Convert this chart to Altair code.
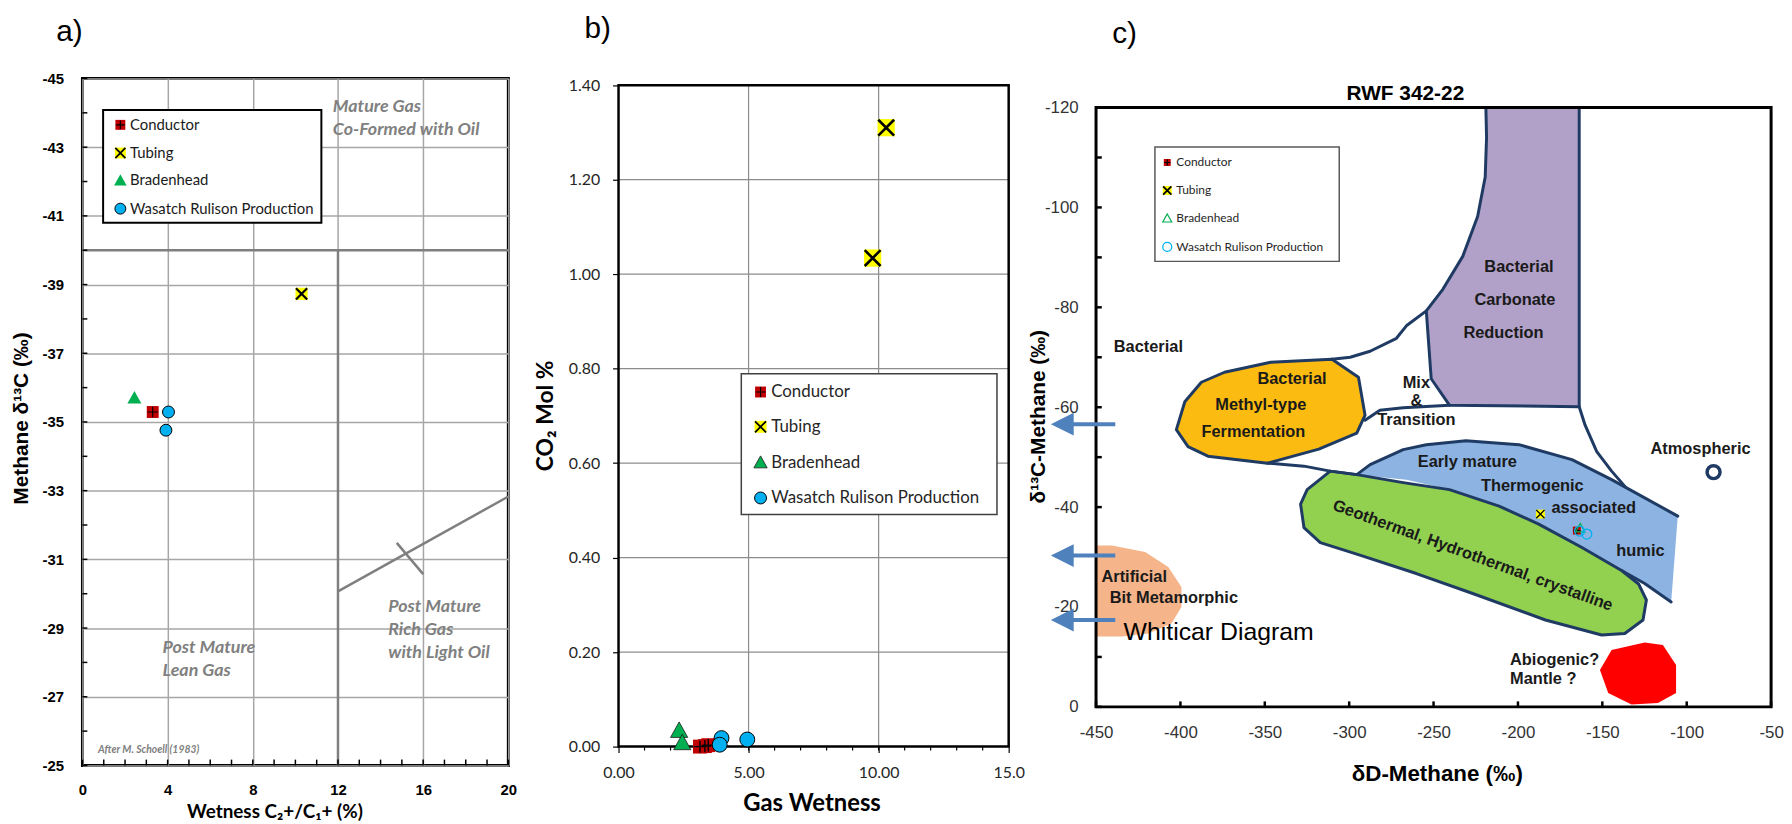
import altair as alt
import pandas as pd

SERIES = ["Conductor", "Tubing", "Bradenhead", "Wasatch Rulison Production"]

# ---------------- a) Schoell diagram ----------------
a_cond_x = [3.30]
a_cond_y = [-35.29]
a_tub_x = [10.29]
a_tub_y = [-38.73]
a_brad_x = [2.44]
a_brad_y = [-35.70]
a_was_x = [4.04, 3.92]
a_was_y = [-35.29, -34.76]
a_x_ticks = [0, 4, 8, 12, 16, 20]
a_y_ticks = [-45, -43, -41, -39, -37, -35, -33, -31, -29, -27, -25]
a_minor_x = list(range(0, 21))
a_minor_y = list(range(-45, -24))
a_seg_x = [0, 12, 12, 14.76]
a_seg_y = [-40, -40, -30.07, -31.48]
a_seg_x2 = [20, 12, 20, 16.0]
a_seg_y2 = [-40, -25, -32.83, -30.57]
a_notes = ["Mature Gas", "Co-Formed with Oil", "Post Mature", "Lean Gas",
           "Post Mature", "Rich Gas", "with Light Oil"]
a_note_x = [11.76, 11.76, 3.76, 3.76, 14.36, 14.36, 14.36]
a_note_y = [-44.18, -43.50, -28.43, -27.75, -29.60, -28.93, -28.26]
a_credit = ["After M. Schoell (1983)"]
a_credit_x = [0.73]
a_credit_y = [-25.46]
a_leg_box = [0.97, 11.22, -44.08, -40.80]
a_leg_sym_x = 1.78
a_leg_txt_x = 2.23
a_leg_rows = [-43.65, -42.83, -42.03, -41.21]
a_tag_x = [-0.61]
a_tag_y = [-46.36]
a_xtitle = ["Wetness C₂+/C₁+ (%)"]
a_xtitle_x = [9.04]
a_xtitle_y = [-23.64]
a_ytitle = ["Methane δ¹³C (‰)"]
a_ytitle_x = [-2.84]
a_ytitle_y = [-35.10]

# ---------------- b) CO2 vs gas wetness ----------------
b_cond_x = [3.13, 3.32, 3.45]
b_cond_y = [0.000, 0.001, 0.003]
b_tub_x = [10.29, 9.77]
b_tub_y = [1.310, 1.034]
b_brad_x = [2.33, 2.45]
b_brad_y = [0.034, 0.008]
b_was_x = [3.96, 3.89, 4.95]
b_was_y = [0.018, 0.004, 0.015]
b_x_ticks = [0, 5, 10, 15]
b_y_ticks = [0, 0.2, 0.4, 0.6, 0.8, 1.0, 1.2, 1.4]
b_grid_x = [5, 10]
b_grid_y = [0.2, 0.4, 0.6, 0.8, 1.0, 1.2]
b_minor_x = list(range(1, 15))
b_leg_box = [4.72, 14.55, 0.491, 0.789]
b_leg_sym_x = 5.46
b_leg_txt_x = 5.87
b_leg_rows = [0.7505, 0.6769, 0.6012, 0.5262]
b_tag_x = [-0.80]
b_tag_y = [1.518]
b_xtitle = ["Gas Wetness"]
b_xtitle_x = [7.44]
b_xtitle_y = [-0.121]
b_ytitle = ["CO₂ Mol %"]
b_ytitle_x = [-2.786]
b_ytitle_y = [0.700]

# ---------------- c) Whiticar diagram ----------------
c_cond_x = [-165.1]
c_cond_y = [-35.3]
c_tub_x = [-186.7]
c_tub_y = [-38.6]
c_brad_x = [-163.1]
c_brad_y = [-35.8]
c_was_x = [-159.2, -163.5]
c_was_y = [-34.6, -35.2]
c_x_ticks = [-450, -400, -350, -300, -250, -200, -150, -100, -50]
c_y_ticks = [-120, -100, -80, -60, -40, -20, 0]
c_minor_y = list(range(-120, 1, 10))

c_purple_x = [-219.0, -163.7, -163.7, -240.6, -251.4, -254.3, -244.5, -232.7, -223.9, -219.4, -218.6, -219.0]
c_purple_y = [-120.0, -120.0, -60.1, -60.4, -65.7, -79.3, -83.6, -90.2, -98.2, -106.1, -114.0, -120.0]
c_orange_x = [-310.2, -294.5, -290.6, -295.5, -318.0, -348.4, -383.7, -395.5, -402.4, -397.4, -387.6, -373.9, -346.5, -310.2]
c_orange_y = [-69.6, -66.0, -58.4, -54.8, -51.6, -48.8, -50.2, -52.1, -55.5, -61.1, -65.0, -67.0, -69.0, -69.6]
c_blue_x = [-295.5, -287.6, -268.0, -254.3, -230.8, -199.4, -168.0, -144.5, -105.3, -109.2, -124.9, -138.6,
            -162.1, -187.7, -211.2, -240.6, -266.1, -295.5]
c_blue_y = [-46.5, -48.5, -51.5, -52.5, -53.3, -52.5, -49.5, -45.5, -38.2, -21.0, -24.7, -27.3,
            -31.9, -36.6, -40.2, -43.5, -45.5, -46.5]
c_green_x = [-311.2, -295.5, -268.0, -240.6, -211.2, -187.7, -162.1, -138.6, -128.5, -123.9, -125.9, -136.7,
             -150.4, -183.7, -226.8, -260.2, -295.5, -317.1, -326.8, -328.8, -324.9, -311.2]
c_green_y = [-47.2, -46.5, -44.9, -43.5, -40.2, -36.6, -31.9, -27.3, -24.6, -21.4, -17.4, -14.7,
             -14.4, -17.4, -22.7, -26.7, -30.6, -32.9, -35.9, -40.6, -43.5, -47.2]
c_peach_x = [-450.0, -440.6, -420.9, -407.2, -399.4, -399.4, -405.3, -419.0, -434.7, -450.0]
c_peach_y = [-32.3, -32.3, -31.0, -28.0, -24.0, -20.0, -16.7, -14.7, -14.1, -14.1]
c_red_x = [-144.5, -124.9, -114.1, -106.3, -106.3, -117.1, -132.7, -146.5, -151.4, -144.5]
c_red_y = [-11.4, -12.9, -12.4, -8.4, -2.8, -0.8, -0.5, -2.8, -7.4, -11.4]
c_line1_x = [-310.2, -299.4, -287.6, -272.0, -266.1, -254.3]
c_line1_y = [-69.6, -70.0, -71.2, -73.8, -76.3, -79.3]
c_line2_x = [-290.6, -281.8, -268.0, -240.6]
c_line2_y = [-57.4, -59.4, -59.9, -60.4]
c_line3_x = [-348.4, -326.8, -311.2, -295.5]
c_line3_y = [-48.8, -48.2, -47.2, -46.5]
c_line4_x = [-163.7, -160.2, -153.3, -144.5, -136.5]
c_line4_y = [-60.1, -56.4, -51.1, -47.2, -44.1]
c_line5_x = [-109.2, -124.9, -138.6]
c_line5_y = [-21.0, -24.7, -27.3]
c_arrow_y = [-56.6, -30.3, -17.4]
c_arrow_x1 = -465.0
c_arrow_x2 = -438.6
c_arrow_head_x = -470.0
c_atm_x = [-84.1]
c_atm_y = [-47.0]

c_region_text = ["Bacterial", "Bacterial", "Methyl-type", "Fermentation", "Mix", "&", "Transition",
                 "Bacterial", "Carbonate", "Reduction", "Early mature", "Thermogenic", "associated",
                 "humic", "Atmospheric"]
c_region_x = [-419.0, -333.9, -352.4, -356.8, -260.2, -260.2, -260.2, -199.4, -201.8, -208.6,
              -230.0, -191.5, -155.1, -127.4, -91.8]
c_region_y = [-72.0, -65.7, -60.4, -55.1, -64.9, -61.2, -57.4, -88.1, -81.4, -74.8,
              -49.0, -44.3, -39.8, -31.3, -51.7]
c_left_text = ["Artificial", "Bit Metamorphic", "Abiogenic?", "Mantle ?"]
c_left_x = [-446.8, -441.9, -204.7, -204.7]
c_left_y = [-26.0, -21.7, -9.3, -5.5]
c_geo_text = ["Geothermal, Hydrothermal, crystalline"]
c_geo_x = [-226.8]
c_geo_y = [-30.3]
c_whit_text = ["Whiticar Diagram"]
c_whit_x = [-433.7]
c_whit_y = [-14.9]
c_title_text = ["RWF 342-22"]
c_title_x = [-266.7]
c_title_y = [-122.8]
c_leg_box = [-415.1, -305.9, -112.1, -89.2]
c_leg_sym_x = -407.8
c_leg_txt_x = -402.4
c_leg_rows = [-109.0, -103.4, -97.8, -92.1]
c_tag_x = [-433.1]
c_tag_y = [-134.8]
c_xtitle = ["δD-Methane (‰)"]
c_xtitle_x = [-247.8]
c_xtitle_y = [13.4]
c_ytitle = ["δ¹³C-Methane (‰)"]
c_ytitle_x = [-483.7]
c_ytitle_y = [-58.1]

# ---------------- styling ----------------
RED = "#c00000"
YELLOW = "#ffff00"
GREEN = "#00b050"
CYAN = "#00b0f0"
NAVY = "#1f3b64"
SANS = "Liberation Sans"
CAL = "Lato"
CROSS = "M-1,0L1,0M0,-1L0,1"
XMARK = "M-1,-1L1,1M-1,1L1,-1"
TRI = "M0,-1L1,0.8L-1,0.8Z"
HEAD = "M-1,0L1,-1L1,1Z"


def frame(xs, ys):
    return pd.DataFrame({"x": xs, "y": ys})


def pt(data, X, Y, shape, size, fill=None, stroke=None, sw=1.0):
    props = {"shape": shape, "size": size, "opacity": 1}
    if fill is None:
        props["filled"] = False
    else:
        props["filled"] = True
        props["fill"] = fill
    if stroke is not None:
        props["stroke"] = stroke
        props["strokeWidth"] = sw
    return alt.Chart(data).mark_point(**props).encode(x=X, y=Y)


def conductor(data, X, Y, s, lw=1.2):
    return [pt(data, X, Y, "square", s, fill=RED),
            pt(data, X, Y, CROSS, s * 0.8, stroke="black", sw=lw)]


def tubing(data, X, Y, s, lw=1.8):
    return [pt(data, X, Y, "square", s, fill=YELLOW),
            pt(data, X, Y, XMARK, s * 0.85, stroke="black", sw=lw)]


def bradenhead(data, X, Y, s, mode):
    if mode == "open":
        return [pt(data, X, Y, TRI, s, stroke=GREEN, sw=1.2)]
    if mode == "outlined":
        return [pt(data, X, Y, TRI, s, fill=GREEN, stroke="#1a1a1a", sw=0.8)]
    return [pt(data, X, Y, TRI, s, fill=GREEN)]


def wasatch(data, X, Y, s, mode):
    if mode == "open":
        return [pt(data, X, Y, "circle", s, stroke=CYAN, sw=1.3)]
    return [pt(data, X, Y, "circle", s, fill=CYAN, stroke="black", sw=1.0)]


def texts(labels, xs, ys, X, Y, **props):
    d = pd.DataFrame({"x": xs, "y": ys, "t": labels})
    return alt.Chart(d).mark_text(**props).encode(x=X, y=Y, text="t:N")


def rules(xs, x2s, ys, y2s, X, Y, **props):
    d = pd.DataFrame({"x": xs, "x2": x2s, "y": ys, "y2": y2s})
    return alt.Chart(d).mark_rule(**props).encode(x=X, x2=alt.X2("x2"), y=Y, y2=alt.Y2("y2"))


def box(xy, X, Y, **props):
    d = pd.DataFrame({"x": [xy[0]], "x2": [xy[1]], "y": [xy[2]], "y2": [xy[3]]})
    return alt.Chart(d).mark_rect(**props).encode(x=X, x2=alt.X2("x2"), y=Y, y2=alt.Y2("y2"))


def shape(xs, ys, X, Y, fill=None, stroke=None, sw=3.0):
    d = pd.DataFrame({"x": xs, "y": ys, "i": list(range(len(xs)))})
    props = {"interpolate": "linear", "strokeJoin": "round", "strokeCap": "round"}
    if fill is not None:
        props["fill"] = fill
    if stroke is not None:
        props["stroke"] = stroke
        props["strokeWidth"] = sw
    else:
        props["strokeWidth"] = 0
        props["strokeOpacity"] = 0
    return alt.Chart(d).mark_line(**props).encode(x=X, y=Y, order="i:Q")


def legend(bx, sym_x, txt_x, rows, X, Y, sizes, mode, font_size, box_stroke, box_sw, text_color):
    layers = [box(bx, X, Y, fill="white", stroke=box_stroke, strokeWidth=box_sw)]
    layers += conductor(frame([sym_x], [rows[0]]), X, Y, sizes[0])
    layers += tubing(frame([sym_x], [rows[1]]), X, Y, sizes[1])
    layers += bradenhead(frame([sym_x], [rows[2]]), X, Y, sizes[2], mode)
    layers += wasatch(frame([sym_x], [rows[3]]), X, Y, sizes[3], mode)
    layers.append(texts(SERIES, [txt_x] * 4, rows, X, Y, align="left", baseline="middle",
                        font=CAL, fontSize=font_size, color=text_color))
    return layers


def anchor(left, right, top):
    # white hairline on the white page: fixes the panel's outer extent for the concat layout
    return alt.Chart(pd.DataFrame({"k": [0]})).mark_rule(color="white", strokeWidth=1).encode(
        x=alt.value(left), x2=alt.value(right), y=alt.value(top), y2=alt.value(top))


def axis(values, label_font, label_size, label_weight, label_color, label_pad, fmt=None, label_expr=None,
         grid=False, grid_color="#a6a6a6", grid_width=1.0, tick_size=0):
    kw = dict(values=values, grid=grid, domain=False, labelFont=label_font, labelFontSize=label_size,
              labelFontWeight=label_weight, labelColor=label_color, labelPadding=label_pad,
              labelFlush=False, labelOverlap=False, labelAngle=0, title=None)
    if grid:
        kw.update(gridColor=grid_color, gridWidth=grid_width)
    if tick_size > 0:
        kw.update(ticks=True, tickSize=tick_size, tickColor="black", tickWidth=1.2)
    else:
        kw.update(ticks=False, tickSize=0)
    if fmt:
        kw["format"] = fmt
    if label_expr:
        kw["labelExpr"] = label_expr
    return alt.Axis(**kw)


PLAIN = "datum.value + ''"

# ---------------- panel a ----------------
sxa = alt.Scale(domain=[0, 20], nice=False, zero=False)
sya = alt.Scale(domain=[-45, -25], reverse=True, nice=False, zero=False)
Xa = alt.X("x:Q", scale=sxa, axis=axis(a_x_ticks, SANS, 15, "bold", "black", 17, label_expr=PLAIN,
                                       grid=True, grid_width=1.5))
Ya = alt.Y("y:Q", scale=sya, axis=axis(a_y_ticks, SANS, 15, "bold", "black", 19, label_expr=PLAIN,
                                       grid=True, grid_width=1.5))

a_layers = [rules(a_seg_x, a_seg_x2, a_seg_y, a_seg_y2, Xa, Ya, color="#7f7f7f", strokeWidth=2.5),
            rules(a_minor_x, a_minor_x, [-25] * len(a_minor_x), [-25.17] * len(a_minor_x), Xa, Ya,
                  color="black", strokeWidth=1.5),
            rules([0] * len(a_minor_y), [0.23] * len(a_minor_y), a_minor_y, a_minor_y, Xa, Ya,
                  color="black", strokeWidth=1.5),
            texts(a_notes, a_note_x, a_note_y, Xa, Ya, align="left", baseline="middle", font=CAL,
                  fontSize=18, fontWeight="bold", fontStyle="italic", color="#808080"),
            texts(a_credit, a_credit_x, a_credit_y, Xa, Ya, align="left", baseline="middle", font=CAL,
                  fontSize=10.5, fontWeight="bold", fontStyle="italic", color="#808080")]
a_layers += legend(a_leg_box, a_leg_sym_x, a_leg_txt_x, a_leg_rows, Xa, Ya, [100, 121, 160, 121],
                   "solid", 15, "black", 2, "#1a1a1a")
a_layers += bradenhead(frame(a_brad_x, a_brad_y), Xa, Ya, 200, "solid")
a_layers += conductor(frame(a_cond_x, a_cond_y), Xa, Ya, 144)
a_layers += wasatch(frame(a_was_x, a_was_y), Xa, Ya, 144, "solid")
a_layers += tubing(frame(a_tub_x, a_tub_y), Xa, Ya, 150, lw=2.2)
a_layers += [texts(["a)"], a_tag_x, a_tag_y, Xa, Ya, font=SANS, fontSize=30, align="center",
                   baseline="middle", color="black"),
             texts(a_xtitle, a_xtitle_x, a_xtitle_y, Xa, Ya, font=CAL, fontSize=19, fontWeight="bold",
                   align="center", baseline="middle", color="black"),
             texts(a_ytitle, a_ytitle_x, a_ytitle_y, Xa, Ya, font=SANS, fontSize=21, fontWeight="bold",
                   align="center", baseline="middle", color="black", angle=270),
             anchor(-73, 444, -66)]
panel_a = alt.layer(*a_layers).properties(width=429, height=692,
                                          view=alt.ViewBackground(stroke="black", strokeWidth=3))

# ---------------- panel b ----------------
# plot area starts at the same top as panel a; the frame is drawn at 0..1.4
sxb = alt.Scale(domain=[0, 15], nice=False, zero=False)
syb = alt.Scale(domain=[0, 1.4141], nice=False, zero=False)
Xb = alt.X("x:Q", scale=sxb, axis=axis(b_x_ticks, CAL, 16, "normal", "#262626", 12.5,
                                       label_expr="datum.value == 15 ? '15.0' : format(datum.value, '.2f')",
                                       tick_size=6))
Yb = alt.Y("y:Q", scale=syb, axis=axis(b_y_ticks, CAL, 16, "normal", "#262626", 13, fmt=".2f", tick_size=6))
b_layers = [rules(b_grid_x, b_grid_x, [0] * len(b_grid_x), [1.4] * len(b_grid_x), Xb, Yb,
                  color="#8c8c8c", strokeWidth=1.2),
            rules([0] * len(b_grid_y), [15] * len(b_grid_y), b_grid_y, b_grid_y, Xb, Yb,
                  color="#8c8c8c", strokeWidth=1.2),
            rules(b_minor_x, b_minor_x, [0] * len(b_minor_x), [-0.0084] * len(b_minor_x), Xb, Yb,
                  color="black", strokeWidth=1.2),
            box([0, 15, 0, 1.4], Xb, Yb, fillOpacity=0, stroke="black", strokeWidth=2.5)]
b_layers += legend(b_leg_box, b_leg_sym_x, b_leg_txt_x, b_leg_rows, Xb, Yb, [121, 144, 180, 144],
                   "outlined", 17, "#404040", 1.5, "#262626")
b_layers += bradenhead(frame(b_brad_x, b_brad_y), Xb, Yb, 300, "outlined")
b_layers += conductor(frame(b_cond_x, b_cond_y), Xb, Yb, 196, lw=1.4)
b_layers += wasatch(frame(b_was_x, b_was_y), Xb, Yb, 225, "solid")
b_layers += tubing(frame(b_tub_x, b_tub_y), Xb, Yb, 300, lw=2.6)
b_layers += [texts(["b)"], b_tag_x, b_tag_y, Xb, Yb, font=SANS, fontSize=30, align="center",
                   baseline="middle", color="black"),
             texts(b_xtitle, b_xtitle_x, b_xtitle_y, Xb, Yb, font=CAL, fontSize=24, fontWeight="bold",
                   align="center", baseline="middle", color="black"),
             texts(b_ytitle, b_ytitle_x, b_ytitle_y, Xb, Yb, font=CAL, fontSize=23, fontWeight="bold",
                   align="center", baseline="middle", color="black", angle=270),
             anchor(-93, 409, -66)]
panel_b = alt.layer(*b_layers).properties(width=393, height=673,
                                          view=alt.ViewBackground(stroke="transparent"))

# ---------------- panel c ----------------
# plot area starts at the same top as panel a; the frame is drawn at -120..0
sxc = alt.Scale(domain=[-450, -50], nice=False, zero=False)
syc = alt.Scale(domain=[-125.82, 0], reverse=True, nice=False, zero=False)
Xc = alt.X("x:Q", scale=sxc, axis=axis(c_x_ticks, SANS, 17, "normal", "#333333", 18, label_expr=PLAIN))
Yc = alt.Y("y:Q", scale=syc, axis=axis(c_y_ticks, SANS, 17, "normal", "#333333", 18, label_expr=PLAIN))
c_layers = [rules(c_x_ticks, c_x_ticks, [0] * len(c_x_ticks), [-1.1] * len(c_x_ticks), Xc, Yc,
                  color="black", strokeWidth=2.5),
            rules([-450] * len(c_minor_y), [-446.6] * len(c_minor_y), c_minor_y, c_minor_y, Xc, Yc,
                  color="black", strokeWidth=2.5),
            shape(c_peach_x, c_peach_y, Xc, Yc, fill="#f5b48a"),
            shape(c_red_x, c_red_y, Xc, Yc, fill="#ff0000"),
            shape(c_purple_x, c_purple_y, Xc, Yc, fill="#b1a0c7", stroke=NAVY),
            shape(c_orange_x, c_orange_y, Xc, Yc, fill="#fbbb10", stroke=NAVY),
            shape(c_blue_x, c_blue_y, Xc, Yc, fill="#8db3e2"),
            shape(c_blue_x[:9], c_blue_y[:9], Xc, Yc, stroke=NAVY),
            shape(c_line5_x, c_line5_y, Xc, Yc, stroke=NAVY),
            shape(c_green_x, c_green_y, Xc, Yc, fill="#92d050", stroke=NAVY),
            shape(c_line1_x, c_line1_y, Xc, Yc, stroke=NAVY),
            shape(c_line2_x, c_line2_y, Xc, Yc, stroke=NAVY),
            shape(c_line3_x, c_line3_y, Xc, Yc, stroke=NAVY),
            shape(c_line4_x, c_line4_y, Xc, Yc, stroke=NAVY),
            box([-450, -50, -120, 0], Xc, Yc, fillOpacity=0, stroke="black", strokeWidth=3),
            rules([c_arrow_x1] * 3, [c_arrow_x2] * 3, c_arrow_y, c_arrow_y, Xc, Yc, color="#4f81bd",
                  strokeWidth=4),
            pt(frame([c_arrow_head_x] * 3, c_arrow_y), Xc, Yc, HEAD, 529, fill="#4f81bd"),
            pt(frame(c_atm_x, c_atm_y), Xc, Yc, "circle", 170, stroke=NAVY, sw=3.5),
            texts(c_region_text, c_region_x, c_region_y, Xc, Yc, align="center", baseline="middle",
                  font=SANS, fontSize=16.5, fontWeight="bold", color="#1a1a1a"),
            texts(c_left_text, c_left_x, c_left_y, Xc, Yc, align="left", baseline="middle",
                  font=SANS, fontSize=16.5, fontWeight="bold", color="#1a1a1a"),
            texts(c_geo_text, c_geo_x, c_geo_y, Xc, Yc, align="center", baseline="middle",
                  font=SANS, fontSize=16.5, fontWeight="bold", color="#1a1a1a", angle=20),
            texts(c_whit_text, c_whit_x, c_whit_y, Xc, Yc, align="left", baseline="middle",
                  font=SANS, fontSize=25, color="black"),
            texts(c_title_text, c_title_x, c_title_y, Xc, Yc, align="center", baseline="middle",
                  font=SANS, fontSize=21, fontWeight="bold", color="black")]
c_layers += legend(c_leg_box, c_leg_sym_x, c_leg_txt_x, c_leg_rows, Xc, Yc, [49, 81, 81, 81],
                   "open", 12, "#595959", 1.5, "#262626")
c_layers += tubing(frame(c_tub_x, c_tub_y), Xc, Yc, 81, lw=1.2)
c_layers += conductor(frame(c_cond_x, c_cond_y), Xc, Yc, 64, lw=1.0)
c_layers += bradenhead(frame(c_brad_x, c_brad_y), Xc, Yc, 90, "open")
c_layers += wasatch(frame(c_was_x, c_was_y), Xc, Yc, 100, "open")
c_layers += [texts(["c)"], c_tag_x, c_tag_y, Xc, Yc, font=SANS, fontSize=30, align="center",
                   baseline="middle", color="black"),
             texts(c_xtitle, c_xtitle_x, c_xtitle_y, Xc, Yc, font=SANS, fontSize=22.5, fontWeight="bold",
                   align="center", baseline="middle", color="black"),
             texts(c_ytitle, c_ytitle_x, c_ytitle_y, Xc, Yc, font=SANS, fontSize=21, fontWeight="bold",
                   align="center", baseline="middle", color="black", angle=270),
             anchor(-70, 600, -66)]
panel_c = alt.layer(*c_layers).properties(width=680, height=633,
                                          view=alt.ViewBackground(stroke="transparent"))

chart = alt.hconcat(panel_a, panel_b, panel_c, spacing=0).properties(padding=0, background="white")
chart.save("out.html", embed_options={"renderer": "svg", "actions": False})
